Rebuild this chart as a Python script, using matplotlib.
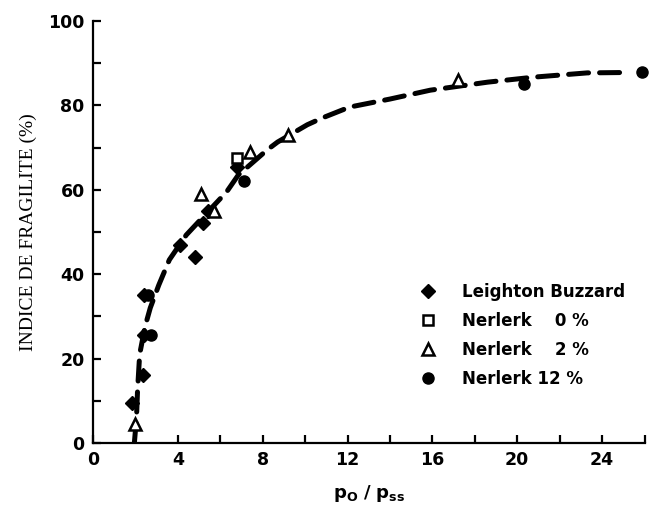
import matplotlib
matplotlib.use("Agg")
import matplotlib.pyplot as plt
from matplotlib.ticker import MultipleLocator

# points
lb_x = [1.85, 2.35, 2.4, 2.4, 4.1, 4.8, 5.2, 5.4, 6.8]
lb_y = [9.5, 16, 25.5, 35, 47, 44, 52, 55, 65.5]

n0_x = [6.8]
n0_y = [67.5]

n2_x = [2.0, 5.1, 5.7, 7.4, 9.2, 17.2]
n2_y = [4.5, 59, 55, 69, 73, 86]

n12_x = [2.75, 2.6, 7.1, 20.3, 25.9]
n12_y = [25.5, 35, 62, 85, 88]

# dashed trend curve
curve_x = [1.95, 2.05, 2.1, 2.2, 2.45, 2.7, 3.1, 3.6, 4.4, 5.05, 6.3, 6.85, 8.2,
           8.7, 10.1, 10.8, 12.1, 14.0, 15.9, 18.6, 20.8, 23.3, 25.3]
curve_y = [0, 6, 12.5, 21, 27.5, 32, 37.4, 43.4, 49.3, 52.8, 59.5, 63.5, 69.4,
           71.3, 75.4, 77, 79.6, 81.5, 83.6, 85.5, 86.7, 87.7, 87.8]

labels = ["Leighton Buzzard", "Nerlerk \u2007 0 %", "Nerlerk \u2007 2 %", "Nerlerk 12 %"]

plt.rcParams['font.family'] = ['DejaVu Sans']
plt.rcParams['mathtext.fontset'] = 'dejavusans'

fig = plt.figure(figsize=(6.55, 5.12), dpi=100)
ax = fig.add_axes([0.142, 0.135, 0.842, 0.824])

ax.plot(curve_x, curve_y, color='black', lw=3.6, ls=(0, (4, 2.2)),
        dash_capstyle='round', zorder=2)

ax.plot(lb_x, lb_y, 'D', color='black', ms=7, ls='none', label=labels[0], zorder=3)
ax.plot(n0_x, n0_y, 's', mfc='white', mec='black', mew=1.8, ms=7, ls='none',
        label=labels[1], zorder=3)
ax.plot(n2_x, n2_y, '^', mfc='white', mec='black', mew=1.8, ms=8, ls='none',
        label=labels[2], zorder=3)
ax.plot(n12_x, n12_y, 'o', color='black', ms=8, ls='none', label=labels[3],
        zorder=3, clip_on=False)

ax.set_xlim(0, 26)
ax.set_ylim(0, 100)
ax.xaxis.set_major_locator(MultipleLocator(4))
ax.xaxis.set_minor_locator(MultipleLocator(2))
ax.yaxis.set_major_locator(MultipleLocator(20))
ax.yaxis.set_minor_locator(MultipleLocator(10))
ax.tick_params(which='both', direction='in', length=6, width=1.6, labelsize=12.5, pad=6)

for lab in ax.get_xticklabels() + ax.get_yticklabels():
    lab.set_fontweight('bold')

for s in ['top', 'right']:
    ax.spines[s].set_visible(False)
for s in ['left', 'bottom']:
    ax.spines[s].set_linewidth(1.6)

ax.set_ylabel("INDICE DE FRAGILITE (%)", family='Liberation Serif', fontsize=14, labelpad=8)
ax.set_xlabel(r"$\mathbf{p_O\ /\ p_{ss}}$", fontsize=13, labelpad=10)

leg = ax.legend(loc='upper left', bbox_to_anchor=(420 / 655, 1 - 283 / 512),
                bbox_transform=fig.transFigure, frameon=False,
                prop={'weight': 'bold', 'size': 12}, handlelength=1.0,
                handletextpad=1.5, labelspacing=0.65, borderpad=0, borderaxespad=0)

fig.savefig("out.png", dpi=100)
